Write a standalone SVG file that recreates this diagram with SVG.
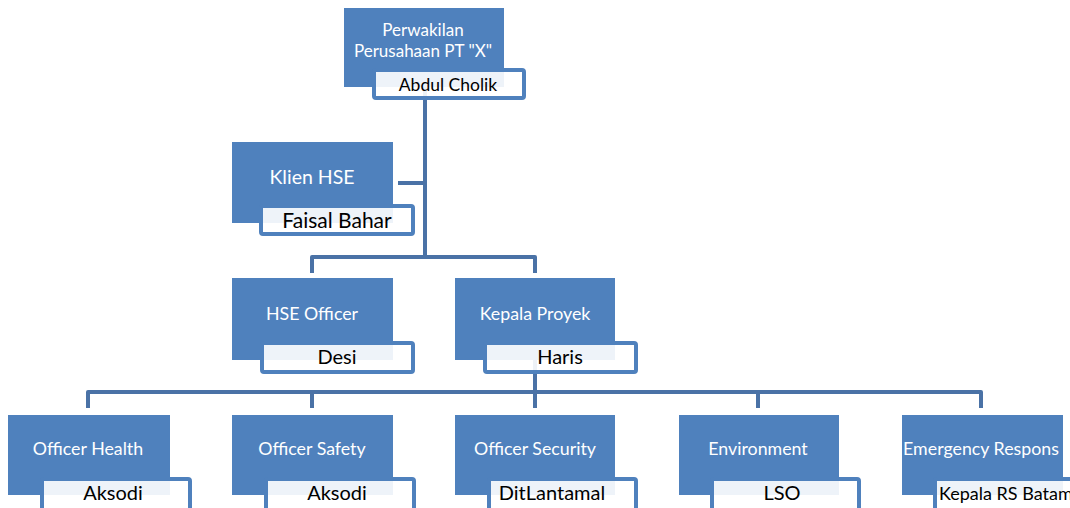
<svg xmlns="http://www.w3.org/2000/svg" width="1070" height="508" viewBox="0 0 1070 508">
<style>
.box{fill:#4f81bd}
.nb{fill:#ffffff;fill-opacity:0.9;stroke:#4f81bd;stroke-width:4}
.t{font-family:Lato,"Liberation Sans",sans-serif;font-size:17.8px;fill:#ffffff;text-anchor:middle}
.n{font-family:Lato,"Liberation Sans",sans-serif;font-size:20px;fill:#000000;text-anchor:middle}
.c{fill:none;stroke:#4a72a6;stroke-width:4;stroke-linejoin:round}
</style>
<rect width="1070" height="508" fill="#ffffff"/>
<g id="connectors">
<path class="c" d="M425 87 V257"/>
<path class="c" d="M398 183 H425"/>
<path class="c" d="M312 273 V257 H535 V273"/>
<path class="c" d="M535 360 V408"/>
<path class="c" d="M88 408 V392 H981 V408"/>
<path class="c" d="M312 392 V408"/>
<path class="c" d="M758 392 V408"/>
</g>
<g id="node-perwakilan">
<rect class="box" x="344" y="8" width="160" height="79"/>
<text class="t" x="423" y="36" style="font-size:17px">Perwakilan</text>
<text class="t" x="423" y="57" style="font-size:17px">Perusahaan PT "X"</text>
<rect class="nb" x="374" y="70" width="150" height="28" rx="2"/>
<text class="n" x="448" y="91" style="font-size:17.5px">Abdul Cholik</text>
</g>
<g id="node-klien">
<rect class="box" x="232" y="142" width="161" height="81"/>
<text class="t" x="312" y="184" style="font-size:19.5px">Klien HSE</text>
<rect class="nb" x="261" y="206" width="152" height="28" rx="2"/>
<text class="n" x="337" y="228" style="font-size:21px">Faisal Bahar</text>
</g>
<g id="node-hse-officer">
<rect class="box" x="232" y="278" width="161" height="82"/>
<text class="t" x="312" y="320">HSE Officer</text>
<rect class="nb" x="262" y="343" width="151" height="29" rx="2"/>
<text class="n" x="337" y="364">Desi</text>
</g>
<g id="node-kepala-proyek">
<rect class="box" x="455" y="278" width="160" height="82"/>
<text class="t" x="535" y="320">Kepala Proyek</text>
<rect class="nb" x="485" y="343" width="151" height="29" rx="2"/>
<text class="n" x="560" y="364">Haris</text>
</g>
<g id="node-officer-health">
<rect class="box" x="8" y="415" width="162" height="80"/>
<text class="t" x="88" y="455">Officer Health</text>
<rect class="nb" x="42" y="479" width="148" height="32" rx="2"/>
<text class="n" x="113" y="500">Aksodi</text>
</g>
<g id="node-officer-safety">
<rect class="box" x="232" y="415" width="161" height="80"/>
<text class="t" x="312" y="455">Officer Safety</text>
<rect class="nb" x="266" y="479" width="148" height="32" rx="2"/>
<text class="n" x="337" y="500">Aksodi</text>
</g>
<g id="node-officer-security">
<rect class="box" x="455" y="415" width="160" height="80"/>
<text class="t" x="535" y="455">Officer Security</text>
<rect class="nb" x="489" y="479" width="147" height="32" rx="2"/>
<text class="n" x="552" y="500">DitLantamal</text>
</g>
<g id="node-environment">
<rect class="box" x="679" y="415" width="160" height="80"/>
<text class="t" x="758" y="455">Environment</text>
<rect class="nb" x="712" y="479" width="147" height="32" rx="2"/>
<text class="n" x="782" y="500">LSO</text>
</g>
<g id="node-emergency">
<rect class="box" x="902" y="415" width="161" height="80"/>
<text class="t" x="981" y="455">Emergency Respons</text>
<rect class="nb" x="935" y="479" width="150" height="32" rx="2"/>
<text class="n" x="939" y="500" style="text-anchor:start;font-size:18px">Kepala RS Batam</text>
</g>
</svg>
